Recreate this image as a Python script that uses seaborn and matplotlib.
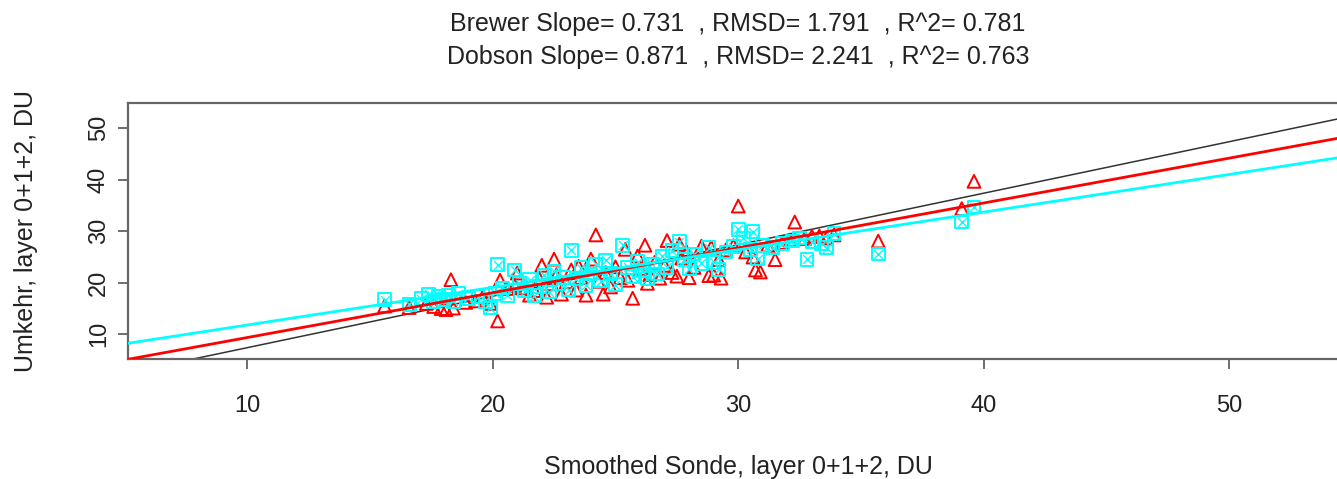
import matplotlib
matplotlib.use("Agg")
import matplotlib.pyplot as plt
import seaborn as sns
import pandas as pd

# ---- data ----
dobson_x = [15.6, 16.6, 17.3, 17.6, 17.9, 18.1, 18.3, 18.4, 18.9, 19.3, 19.6, 19.9,
            20.2, 20.3, 20.6, 20.9, 21.0, 21.2, 21.5, 21.7, 21.9, 22.0, 22.2, 22.4,
            22.5, 22.6, 22.8, 23.0, 23.2, 23.4, 23.5, 23.6, 23.8, 24.0, 24.2, 24.3,
            24.5, 24.6, 24.8, 25.0, 25.2, 25.4, 25.5, 25.7, 25.9, 26.0, 26.2, 26.3,
            26.4, 26.6, 26.8, 27.0, 27.1, 27.3, 27.5, 27.6, 27.7, 27.9, 28.0, 28.2,
            28.5, 28.8, 28.9, 29.0, 29.2, 29.3, 29.5, 29.8, 30.0, 30.3, 30.6, 30.7,
            30.9, 31.2, 31.5, 31.8, 32.1, 32.3, 32.7, 33.0, 33.3, 33.6, 33.9, 35.7,
            39.1, 39.6]
dobson_y = [15.5, 15.2, 16.0, 15.4, 15.0, 14.8, 20.6, 15.1, 16.2, 16.5, 17.3, 16.0,
            12.6, 20.5, 18.9, 19.5, 21.9, 19.0, 17.6, 18.5, 20.8, 23.4, 17.2, 19.8,
            24.6, 21.6, 17.8, 20.2, 22.5, 18.6, 23.2, 21.0, 17.6, 24.6, 29.3, 20.3,
            17.8, 22.0, 19.2, 23.1, 21.0, 26.5, 20.5, 17.0, 25.2, 22.8, 27.3, 19.9,
            21.6, 24.0, 20.9, 23.4, 28.2, 22.0, 21.3, 27.5, 24.8, 26.0, 21.0, 23.0,
            27.1, 21.4, 26.9, 21.5, 24.5, 20.9, 26.4, 27.2, 34.9, 26.0, 25.0, 22.5,
            22.1, 27.3, 24.5, 27.8, 28.3, 31.8, 28.6, 29.0, 29.1, 28.7, 29.3, 28.1,
            34.4, 39.7]

brewer_x = [15.6, 16.6, 17.1, 17.4, 17.6, 17.8, 18.0, 18.2, 18.4, 18.6, 19.0, 19.4,
            19.7, 19.9, 20.1, 20.2, 20.4, 20.6, 20.9, 21.1, 21.3, 21.5, 21.7, 21.9,
            22.1, 22.3, 22.5, 22.7, 22.9, 23.1, 23.2, 23.4, 23.6, 23.8, 24.0, 24.2,
            24.4, 24.6, 24.8, 25.0, 25.3, 25.5, 25.7, 25.9, 26.1, 26.3, 26.5, 26.7,
            26.9, 27.1, 27.3, 27.6, 27.8, 28.0, 28.2, 28.5, 28.8, 29.0, 29.2, 29.5,
            29.8, 30.0, 30.2, 30.5, 30.6, 30.8, 31.0, 31.4, 31.8, 32.2, 32.5, 32.8,
            33.0, 33.4, 33.6, 33.9, 35.7, 39.1, 39.6]
brewer_y = [16.7, 15.8, 16.9, 17.8, 16.3, 17.3, 16.8, 17.6, 16.4, 17.9, 17.0, 17.3,
            16.4, 15.1, 18.0, 23.5, 19.0, 17.6, 22.5, 19.8, 18.4, 20.6, 17.5, 19.3,
            21.5, 18.2, 22.2, 19.9, 21.0, 18.6, 26.3, 20.8, 22.9, 19.5, 21.7, 23.6,
            20.4, 24.4, 21.8, 19.6, 27.3, 23.0, 21.2, 24.1, 22.3, 20.8, 23.6, 21.7,
            25.2, 23.0, 26.2, 28.0, 24.5, 22.7, 25.6, 23.8, 26.8, 24.0, 22.6, 26.0,
            27.0, 30.4, 28.7, 26.5, 29.9, 24.7, 27.3, 26.8, 27.6, 28.1, 28.7, 24.6,
            28.0, 27.6, 26.8, 29.5, 25.6, 31.8, 34.7]

# fitted lines: (intercept, slope)
ref_line = (-2.6, 1.0)
dobson_fit = (0.66, 0.871)
brewer_fit = (4.49, 0.731)

title_lines = ["Brewer Slope= 0.731  , RMSD= 1.791  , R^2= 0.781",
               "Dobson Slope= 0.871  , RMSD= 2.241  , R^2= 0.763"]
xlabel = "Smoothed Sonde, layer 0+1+2, DU"
ylabel = "Umkehr, layer 0+1+2, DU"
ticks = [10, 20, 30, 40, 50]

sns.set_style("white")
plt.rcParams['font.family'] = ['Liberation Sans', 'DejaVu Sans']

fig = plt.figure(figsize=(13.37, 4.79), dpi=100)
ax = fig.add_axes([128 / 1337, 1 - 359.3 / 479, (1348.5 - 128) / 1337, (359.3 - 103.3) / 479])

RED = "#FF0000"
CYAN = "#00FFFF"
TXT = "#222222"

df_d = pd.DataFrame({"x": dobson_x, "y": dobson_y})
df_b = pd.DataFrame({"x": brewer_x, "y": brewer_y})

sns.scatterplot(data=df_d, x="x", y="y", ax=ax, marker="^", s=85,
                facecolors="none", edgecolor=RED, linewidth=1.4, zorder=3)
sns.scatterplot(data=df_b, x="x", y="y", ax=ax, marker="s", s=85,
                facecolors="none", edgecolor=CYAN, linewidth=1.4, zorder=4)
sns.scatterplot(data=df_b, x="x", y="y", ax=ax, marker="x", s=40,
                color=CYAN, linewidth=1.0, zorder=4)

ax.axline((0, ref_line[0]), slope=ref_line[1], color="#333333", lw=1.1, zorder=2)
ax.axline((0, dobson_fit[0]), slope=dobson_fit[1], color=RED, lw=2.0, zorder=5)
ax.axline((0, brewer_fit[0]), slope=brewer_fit[1], color=CYAN, lw=2.0, zorder=5)

ax.set_xlim(5.15, 54.85)
ax.set_ylim(5.15, 54.85)
ax.set_xticks(ticks)
ax.set_yticks(ticks)
ax.set_xticklabels([str(t) for t in ticks], fontsize=17, color=TXT)
ax.set_yticklabels([str(t) for t in ticks], fontsize=17, color=TXT,
                   rotation=90, va="center")
ax.tick_params(axis="both", which="major", direction="out", length=7,
               width=1.2, color="#555555", bottom=True, left=True)
ax.tick_params(axis="x", pad=19)
ax.tick_params(axis="y", pad=6)
for sp in ax.spines.values():
    sp.set_color("#666666")
    sp.set_linewidth(1.6)

ax.set_xlabel(xlabel, fontsize=18, color=TXT, labelpad=27)
ax.set_ylabel(ylabel, fontsize=18, color=TXT, labelpad=36)

fig.text(738 / 1337, 1 - 24 / 479, title_lines[0], ha="center", va="center",
         fontsize=18, color=TXT)
fig.text(738 / 1337, 1 - 57 / 479, title_lines[1], ha="center", va="center",
         fontsize=18, color=TXT)

fig.savefig("out.png", dpi=100)
